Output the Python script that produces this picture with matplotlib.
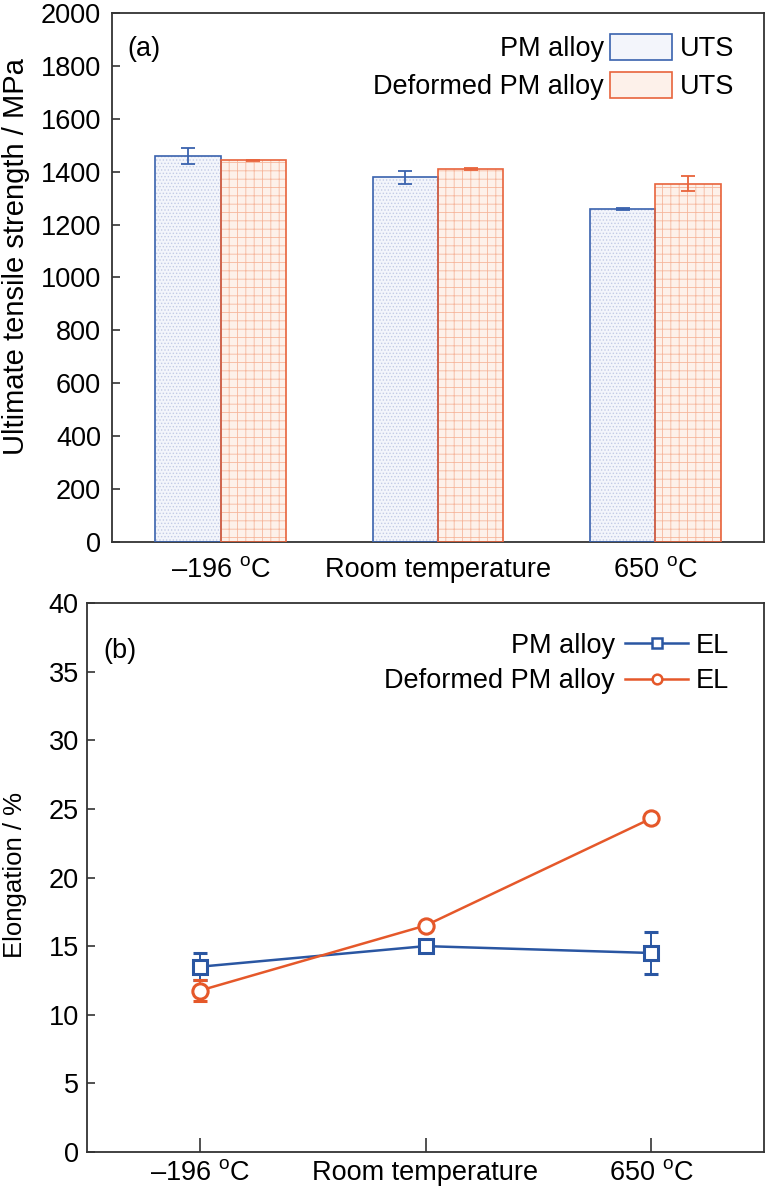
import matplotlib
matplotlib.use("Agg")
import matplotlib.pyplot as plt
from matplotlib.patches import Patch
from matplotlib.lines import Line2D
import numpy as np

plt.rcParams['font.family'] = ['Liberation Sans', 'DejaVu Sans']
plt.rcParams['mathtext.fontset'] = 'custom'
plt.rcParams['mathtext.rm'] = 'Liberation Sans'
plt.rcParams['hatch.linewidth'] = 0.6

# ---- data ----
categories = ['–196 $^{\\rm o}$C', 'Room temperature', '650 $^{\\rm o}$C']
uts_pm = [1460, 1379, 1260]
uts_pm_err = [30, 24, 3]
uts_def = [1443, 1410, 1355]
uts_def_err = [3, 4, 28]
el_pm = [13.5, 15.0, 14.5]
el_pm_err = [1.0, 0.0, 1.5]
el_def = [11.76, 16.5, 24.3]
el_def_err = [0.75, 0.0, 0.2]
uts_ticks = list(range(0, 2001, 200))
el_ticks = list(range(0, 41, 5))
series_names = ['PM alloy', 'Deformed PM alloy']

BLUE = '#3a62ae'
ORANGE = '#e8643c'
BLUE_L = '#2a56a2'
ORANGE_L = '#e5582a'
SPINE = '#333333'
FS = 19.5

fig = plt.figure(figsize=(7.68, 11.93), dpi=100)
W, H = 768, 1193
ax1 = fig.add_axes([112/W, 1-542/H, (764-112)/W, (542-13)/H])
ax2 = fig.add_axes([87/W, 1-1152/H, (764-87)/W, (1152-603)/H])

x = np.arange(len(categories))
bw = 0.3

# ---- top: bars ----
ax1.bar(x - bw/2, uts_pm, bw, color='#f3f5fb', hatch='.....', edgecolor='#c3cbe6', linewidth=0, zorder=2)
ax1.bar(x - bw/2, uts_pm, bw, color='none', edgecolor=BLUE, linewidth=1.2, zorder=3)
ax1.bar(x + bw/2, uts_def, bw, color='#fdf1ea', hatch='++', edgecolor='#f6b79d', linewidth=0, zorder=2)
ax1.bar(x + bw/2, uts_def, bw, color='none', edgecolor=ORANGE, linewidth=1.2, zorder=3)
ax1.errorbar(x - bw/2, uts_pm, yerr=uts_pm_err, fmt='none', ecolor=BLUE, elinewidth=1.3, capsize=5, capthick=1.3, zorder=4)
ax1.errorbar(x + bw/2, uts_def, yerr=uts_def_err, fmt='none', ecolor=ORANGE, elinewidth=1.3, capsize=5, capthick=1.3, zorder=4)

ax1.set_xlim(-0.5, 2.5)
ax1.set_ylim(0, 2000)
ax1.set_yticks(uts_ticks)
ax1.set_xticks(x)
ax1.set_xticklabels(categories)
ax1.tick_params(axis='x', length=0, labelsize=FS, pad=11)
ax1.tick_params(axis='y', direction='in', length=6, width=1.2, labelsize=FS, color=SPINE, pad=8)
ax1.set_ylabel('Ultimate tensile strength / MPa', fontsize=21)
ax1.yaxis.set_label_coords(-0.126, 0.54)
for s in ax1.spines.values():
    s.set_color(SPINE)
    s.set_linewidth(1.3)
ax1.text(0.023, 0.932, '(a)', transform=ax1.transAxes, fontsize=FS, va='center', ha='left')

h1 = [Patch(facecolor='#f3f5fb', edgecolor=BLUE, linewidth=1.2),
      Patch(facecolor='#fdf1ea', edgecolor=ORANGE, linewidth=1.2)]
leg1 = ax1.legend(h1, series_names, loc='upper right', bbox_to_anchor=(0.859, 0.960),
                  frameon=False, markerfirst=False, fontsize=FS, handlelength=2.3,
                  handleheight=1.1, handletextpad=0.22, labelspacing=0.35,
                  borderaxespad=0, borderpad=0)

# ---- bottom: lines ----
ax2.errorbar(x, el_pm, yerr=el_pm_err, color=BLUE_L, lw=1.8, marker='s', markersize=10,
             markerfacecolor='white', markeredgewidth=2.2, markeredgecolor=BLUE_L,
             capsize=5, capthick=1.4, elinewidth=1.4, zorder=3)
ax2.errorbar(x, el_def, yerr=el_def_err, color=ORANGE_L, lw=1.8, marker='o', markersize=11,
             markerfacecolor='white', markeredgewidth=2.2, markeredgecolor=ORANGE_L,
             capsize=5, capthick=1.4, elinewidth=1.4, zorder=3)
ax2.set_xlim(-0.5, 2.5)
ax2.set_ylim(0, 40)
ax2.set_yticks(el_ticks)
ax2.set_xticks(x)
ax2.set_xticklabels(categories)
ax2.tick_params(axis='x', direction='in', length=10, width=1.2, labelsize=FS, color=SPINE, pad=6)
ax2.tick_params(axis='y', direction='in', length=6, width=1.2, labelsize=FS, color=SPINE, pad=6)
ax2.set_ylabel('Elongation / %', fontsize=18.5)
ax2.yaxis.set_label_coords(-0.0886, 0.505)
for s in ax2.spines.values():
    s.set_color(SPINE)
    s.set_linewidth(1.3)
ax2.text(0.024, 0.912, '(b)', transform=ax2.transAxes, fontsize=FS, va='center', ha='left')

h2 = [Line2D([], [], color=BLUE_L, lw=1.8, marker='s', markersize=7, markerfacecolor='white', markeredgewidth=1.8),
      Line2D([], [], color=ORANGE_L, lw=1.8, marker='o', markersize=7, markerfacecolor='white', markeredgewidth=1.8)]
leg2 = ax2.legend(h2, series_names, loc='upper right', bbox_to_anchor=(0.888, 0.946),
                  frameon=False, markerfirst=False, fontsize=FS, handlelength=2.33,
                  handletextpad=0.37, labelspacing=0.35, borderaxespad=0, borderpad=0)

# right-hand labels next to legend handles
fig.canvas.draw()
r = fig.canvas.get_renderer()
for leg, lab in [(leg1, 'UTS'), (leg2, 'EL')]:
    lb = leg.get_window_extent(r)
    for t in leg.get_texts():
        tb = t.get_window_extent(r)
        yc = (tb.y0 + tb.y1) / 2
        xf, yf = fig.transFigure.inverted().transform((lb.x1 + 8, yc))
        fig.text(xf, yf, lab, fontsize=FS, va='center', ha='left')

fig.savefig('out.png', dpi=100)
